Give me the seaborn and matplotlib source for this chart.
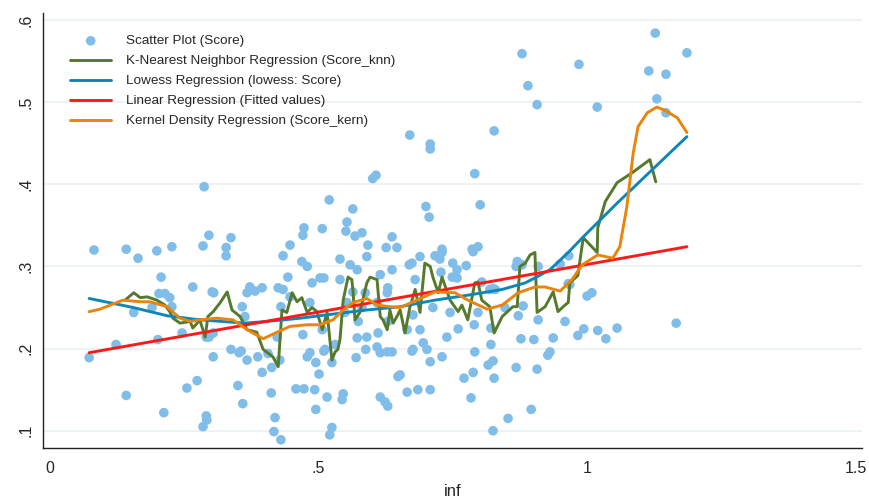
import pandas as pd
import seaborn as sns
import matplotlib.pyplot as plt

# scatter: inf vs Score
inf_vals = [
    0.073, 0.082, 0.123, 0.142, 0.142, 0.164, 0.156, 0.199, 0.227, 0.212,
    0.201, 0.207, 0.203, 0.214, 0.223, 0.227, 0.190, 0.246, 0.266, 0.302,
    0.305, 0.328, 0.328, 0.291, 0.296, 0.304, 0.337, 0.358, 0.352, 0.367,
    0.367, 0.372, 0.382, 0.395, 0.387, 0.395, 0.413, 0.425, 0.434, 0.443,
    0.430, 0.428, 0.350, 0.359, 0.255, 0.274, 0.291, 0.292, 0.285, 0.412,
    0.419, 0.417, 0.430, 0.458, 0.473, 0.493, 0.495, 0.516, 0.525, 0.521,
    0.501, 0.495, 0.479, 0.484, 0.471, 0.488, 0.469, 0.479, 0.503, 0.510,
    0.507, 0.512, 0.525, 0.531, 0.540, 0.540, 0.559, 0.572, 0.574, 0.572,
    0.570, 0.546, 0.544, 0.590, 0.590, 0.609, 0.615, 0.615, 0.624, 0.629,
    0.615, 0.628, 0.637, 0.629, 0.628, 0.637, 0.648, 0.652, 0.665, 0.685,
    0.708, 0.669, 0.674, 0.680, 0.689, 0.689, 0.676, 0.695, 0.702, 0.708,
    0.287, 0.296, 0.337, 0.285, 0.447, 0.471, 0.473, 0.507, 0.520, 0.553,
    0.551, 0.564, 0.568, 0.581, 0.592, 0.601, 0.607, 0.626, 0.646, 0.637,
    0.670, 0.708, 0.708, 0.700, 0.706, 0.827, 0.791, 0.801, 0.717, 0.730,
    0.726, 0.788, 0.797, 0.750, 0.775, 0.728, 0.758, 0.749, 0.758, 0.870,
    0.868, 0.909, 0.825, 0.879, 0.890, 0.907, 1.127, 1.186, 0.985, 1.115,
    1.147, 1.130, 1.147, 1.019, 0.966, 0.950, 0.968, 0.786, 0.730, 0.804,
    0.819, 0.829, 0.879, 0.745, 0.797, 0.847, 0.872, 0.881, 0.909, 0.959,
    0.965, 1.000, 1.009, 1.056, 1.020, 1.035, 0.994, 0.983, 1.166, 0.937,
    0.901, 0.877, 0.931, 0.927, 0.907, 0.868, 0.821, 0.791, 0.760, 0.739,
    0.790, 0.821, 0.730, 0.816, 0.825, 0.788, 0.771, 0.827, 0.784, 0.896,
    0.853, 0.825, 0.629, 0.665, 0.676, 0.713, 0.674, 0.356, 0.406, 0.510,
    0.588, 0.611, 0.581, 0.609, 0.484, 0.553, 0.564, 0.587, 0.447, 0.434,
    0.363, 0.304, 0.423, 0.549,
]
score_vals = [
    0.189, 0.320, 0.205, 0.143, 0.321, 0.310, 0.244, 0.319, 0.324, 0.122,
    0.211, 0.287, 0.267, 0.267, 0.262, 0.251, 0.250, 0.219, 0.275, 0.269,
    0.268, 0.313, 0.323, 0.214, 0.214, 0.190, 0.199, 0.251, 0.195, 0.186,
    0.268, 0.275, 0.270, 0.274, 0.190, 0.171, 0.177, 0.274, 0.313, 0.287,
    0.251, 0.186, 0.155, 0.133, 0.152, 0.161, 0.118, 0.113, 0.105, 0.146,
    0.116, 0.099, 0.089, 0.151, 0.151, 0.150, 0.126, 0.141, 0.104, 0.095,
    0.169, 0.183, 0.190, 0.195, 0.217, 0.280, 0.306, 0.300, 0.286, 0.286,
    0.223, 0.199, 0.183, 0.205, 0.309, 0.284, 0.302, 0.296, 0.233, 0.213,
    0.189, 0.145, 0.138, 0.312, 0.214, 0.202, 0.290, 0.141, 0.135, 0.130,
    0.195, 0.196, 0.196, 0.274, 0.268, 0.296, 0.166, 0.168, 0.147, 0.150,
    0.150, 0.302, 0.304, 0.284, 0.312, 0.223, 0.199, 0.207, 0.199, 0.184,
    0.397, 0.338, 0.335, 0.325, 0.326, 0.338, 0.347, 0.346, 0.381, 0.354,
    0.343, 0.370, 0.337, 0.341, 0.326, 0.407, 0.411, 0.323, 0.323, 0.336,
    0.460, 0.449, 0.443, 0.373, 0.360, 0.465, 0.413, 0.375, 0.313, 0.317,
    0.309, 0.318, 0.324, 0.304, 0.301, 0.293, 0.296, 0.287, 0.286, 0.306,
    0.300, 0.300, 0.273, 0.559, 0.520, 0.497, 0.584, 0.560, 0.546, 0.538,
    0.534, 0.504, 0.487, 0.494, 0.313, 0.303, 0.278, 0.321, 0.321, 0.281,
    0.272, 0.272, 0.302, 0.244, 0.244, 0.250, 0.240, 0.252, 0.235, 0.233,
    0.279, 0.264, 0.268, 0.225, 0.222, 0.212, 0.224, 0.216, 0.231, 0.213,
    0.211, 0.212, 0.196, 0.192, 0.175, 0.177, 0.205, 0.196, 0.224, 0.214,
    0.229, 0.225, 0.190, 0.180, 0.185, 0.171, 0.164, 0.164, 0.140, 0.126,
    0.115, 0.100, 0.233, 0.223, 0.241, 0.250, 0.197, 0.197, 0.194, 0.197,
    0.199, 0.219, 0.250, 0.256, 0.256, 0.256, 0.269, 0.268, 0.263, 0.272,
    0.239, 0.219, 0.214, 0.244,
]

# K-nearest neighbour fit (Score_knn)
knn_x = [
    0.140, 0.156, 0.168, 0.181, 0.199, 0.214, 0.223, 0.229, 0.242, 0.261,
    0.266, 0.274, 0.279, 0.289, 0.294, 0.304, 0.317, 0.330, 0.339, 0.354,
    0.367, 0.385, 0.397, 0.415, 0.425, 0.432, 0.441, 0.451, 0.460, 0.469,
    0.479, 0.488, 0.497, 0.507, 0.516, 0.525, 0.531, 0.536, 0.540, 0.546,
    0.555, 0.562, 0.564, 0.568, 0.577, 0.590, 0.596, 0.609, 0.615, 0.620,
    0.628, 0.633, 0.639, 0.646, 0.652, 0.661, 0.670, 0.680, 0.689, 0.698,
    0.708, 0.713, 0.723, 0.730, 0.745, 0.760, 0.767, 0.778, 0.791, 0.797,
    0.804, 0.819, 0.827, 0.842, 0.862, 0.870, 0.875, 0.885, 0.894, 0.903,
    0.907, 0.922, 0.937, 0.946, 0.959, 0.965, 0.968, 0.978, 0.983, 0.989,
    0.993, 1.019, 1.020, 1.034, 1.056, 1.084, 1.117, 1.128,
]
knn_y = [
    0.259, 0.268, 0.262, 0.263, 0.259, 0.253, 0.245, 0.237, 0.231, 0.233,
    0.225, 0.231, 0.235, 0.214, 0.239, 0.245, 0.256, 0.269, 0.247, 0.239,
    0.223, 0.220, 0.199, 0.190, 0.178, 0.247, 0.244, 0.268, 0.257, 0.262,
    0.244, 0.250, 0.245, 0.223, 0.244, 0.186, 0.196, 0.199, 0.211, 0.259,
    0.287, 0.284, 0.272, 0.235, 0.244, 0.280, 0.287, 0.284, 0.239, 0.235,
    0.223, 0.247, 0.231, 0.239, 0.247, 0.219, 0.250, 0.272, 0.244, 0.304,
    0.300, 0.287, 0.268, 0.287, 0.259, 0.245, 0.253, 0.235, 0.280, 0.281,
    0.259, 0.251, 0.219, 0.239, 0.251, 0.251, 0.300, 0.304, 0.314, 0.317,
    0.244, 0.251, 0.269, 0.245, 0.253, 0.256, 0.280, 0.286, 0.289, 0.317,
    0.335, 0.317, 0.347, 0.379, 0.402, 0.414, 0.430, 0.403,
]

# lowess fit
lowess_x = [0.073, 0.155, 0.218, 0.279, 0.363, 0.404, 0.466, 0.527, 0.590, 0.652, 0.717,
            0.778, 0.842, 0.885, 0.903, 0.931, 0.965, 0.993, 1.056, 1.117, 1.186]
lowess_y = [0.261, 0.250, 0.240, 0.235, 0.231, 0.233, 0.237, 0.242, 0.247, 0.251, 0.259,
            0.265, 0.272, 0.280, 0.286, 0.296, 0.317, 0.336, 0.377, 0.415, 0.458]

# linear fit (Fitted values)
fit_x = [0.073, 1.186]
fit_y = [0.195, 0.324]

# kernel regression (Score_kern)
kern_x = [
    0.073, 0.093, 0.136, 0.168, 0.186, 0.218, 0.242, 0.261, 0.279, 0.311,
    0.341, 0.367, 0.397, 0.423, 0.447, 0.479, 0.503, 0.527, 0.546, 0.564,
    0.590, 0.609, 0.633, 0.652, 0.683, 0.717, 0.754, 0.778, 0.814, 0.842,
    0.872, 0.903, 0.922, 0.950, 0.972, 0.991, 1.020, 1.048, 1.061, 1.074,
    1.086, 1.095, 1.112, 1.130, 1.145, 1.168, 1.186,
]
kern_y = [
    0.245, 0.248, 0.259, 0.257, 0.257, 0.251, 0.237, 0.233, 0.235, 0.237,
    0.235, 0.223, 0.212, 0.220, 0.227, 0.229, 0.229, 0.235, 0.247, 0.256,
    0.261, 0.253, 0.251, 0.250, 0.259, 0.269, 0.268, 0.259, 0.248, 0.253,
    0.268, 0.275, 0.275, 0.270, 0.284, 0.302, 0.314, 0.310, 0.324, 0.372,
    0.438, 0.470, 0.487, 0.494, 0.490, 0.481, 0.463,
]

x_ticks = [0, 0.5, 1, 1.5]
x_tick_labels = ["0", ".5", "1", "1.5"]
y_ticks = [0.1, 0.2, 0.3, 0.4, 0.5, 0.6]
y_tick_labels = [".1", ".2", ".3", ".4", ".5", ".6"]

sns.set_style("white")
plt.rcParams['font.family'] = ['Liberation Sans', 'DejaVu Sans']

fig = plt.figure(figsize=(8.7, 4.98), dpi=100)
ax = fig.add_axes([0.0494, 0.1004, 0.9414, 0.8735])

# light horizontal grid
for yv in y_ticks:
    ax.axhline(yv, color="#e8eff1", lw=1.1, zorder=0)

sns.scatterplot(x=inf_vals, y=score_vals, ax=ax, color="#80bde8", s=48,
                edgecolor="none", label="Scatter Plot (Score)", zorder=2)
sns.lineplot(x=knn_x, y=knn_y, ax=ax, color="#557a2c", lw=2.1, sort=False,
             estimator=None, label="K-Nearest Neighbor Regression (Score_knn)", zorder=3)
sns.lineplot(x=lowess_x, y=lowess_y, ax=ax, color="#0e86b8", lw=2.1, sort=False,
             estimator=None, label="Lowess Regression (lowess: Score)", zorder=3)
sns.lineplot(x=fit_x, y=fit_y, ax=ax, color="#ff1a1a", lw=2.1, sort=False,
             estimator=None, label="Linear Regression (Fitted values)", zorder=3)
sns.lineplot(x=kern_x, y=kern_y, ax=ax, color="#e8850d", lw=2.1, sort=False,
             estimator=None, label="Kernel Density Regression (Score_kern)", zorder=3)

ax.set_xlim(-0.013, 1.512)
ax.set_ylim(0.079, 0.6085)
ax.set_xticks(x_ticks)
ax.set_xticklabels(x_tick_labels, fontsize=11.5)
ax.set_yticks(y_ticks)
ax.set_yticklabels(y_tick_labels, fontsize=11.5, rotation=90, va="center")
ax.tick_params(direction="out", length=5, width=1, color="#333333", pad=4)
ax.tick_params(axis="y", pad=2)
ax.set_xlabel("inf", fontsize=12, labelpad=6)
ax.set_ylabel("")

sns.despine(ax=ax)
for side in ["left", "bottom"]:
    ax.spines[side].set_color("#222222")
    ax.spines[side].set_linewidth(1)

ax.legend(loc="upper left", bbox_to_anchor=(0.027, 0.962), frameon=False,
          fontsize=9.7, handlelength=3, handletextpad=1.1, labelspacing=0.56,
          borderaxespad=0)

fig.savefig("out.png", dpi=100)
